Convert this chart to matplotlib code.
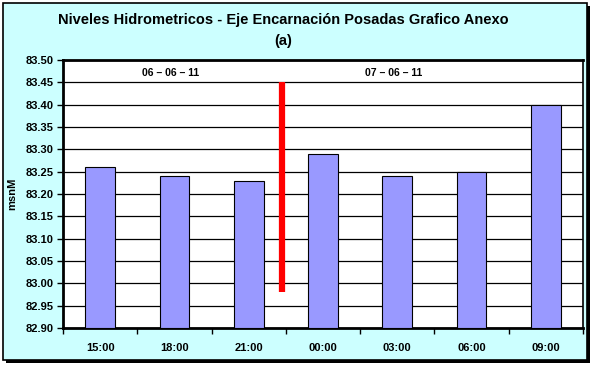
import matplotlib
matplotlib.use("Agg")
import matplotlib.pyplot as plt
from matplotlib.patches import Rectangle
import numpy as np

plt.rcParams['font.family'] = ['Liberation Sans', 'DejaVu Sans']

categories = ["15:00", "18:00", "21:00", "00:00", "03:00", "06:00", "09:00"]
values = [83.26, 83.24, 83.23, 83.29, 83.24, 83.25, 83.40]
yticks = [82.90, 82.95, 83.00, 83.05, 83.10, 83.15, 83.20, 83.25, 83.30, 83.35, 83.40, 83.45, 83.50]
divider_x = 2.45
divider_y = [82.981, 83.45]
date_labels = ["06 – 06 – 11", "07 – 06 – 11"]
date_x = [0.95, 3.95]
date_y = 83.472

W, H = 595, 373
fig = plt.figure(figsize=(W/100, H/100), dpi=100)
fig.patch.set_facecolor('white')

# figure frame with shadow
fig.patches.append(Rectangle((6/W, 1 - 363/H), 584/W, 357/H, transform=fig.transFigure,
                             facecolor='black', edgecolor='none', zorder=-3))
fig.patches.append(Rectangle((3/W, 1 - 360/H), 584/W, 357/H, transform=fig.transFigure,
                             facecolor='#CCFFFF', edgecolor='black', linewidth=1.2, zorder=-2))

ax = fig.add_axes([63/W, 1 - 328/H, 520/W, 268/H])
ax.set_zorder(1)
ax.set_facecolor('white')
x = np.arange(len(categories))
ax.bar(x, np.array(values) - 82.90, width=0.4, bottom=82.90, color='#9999FF',
       edgecolor='black', linewidth=0.8, zorder=3)
ax.set_xlim(-0.5, len(categories) - 0.5)
ax.set_ylim(82.90, 83.50)
ax.set_yticks(yticks)
ax.set_yticklabels([f"{v:.2f}" for v in yticks], fontsize=8, fontweight='bold')
ax.yaxis.grid(True, color='black', linewidth=0.9, zorder=1)
ax.set_axisbelow(True)

ax.set_xticks(x)
ax.set_xticklabels(categories, fontsize=8, fontweight='bold')
ax.tick_params(axis='x', which='major', length=0, pad=11)
ax.set_xticks(np.arange(-0.5, len(categories)), minor=True)
ax.tick_params(axis='x', which='minor', length=4, width=1, direction='out')
ax.tick_params(axis='y', length=4, width=1, direction='out', pad=3)

for s in ax.spines.values():
    s.set_color('black')
    s.set_linewidth(1.2)
ax.spines['left'].set_linewidth(2)
ax.spines['bottom'].set_linewidth(2)
ax.spines['top'].set_linewidth(2)

ax.plot([divider_x, divider_x], divider_y, color='#FF0000', linewidth=4.5,
        solid_capstyle='butt', zorder=4)

for t, dx in zip(date_labels, date_x):
    ax.text(dx, date_y, t, ha='center', va='center', fontsize=7.5, fontweight='heavy', zorder=5)

ax.set_ylabel("msnM", fontsize=8, fontweight='bold', labelpad=6)

fig.text(283/W, 1 - 20/H, "Niveles Hidrometricos - Eje Encarnación Posadas Grafico Anexo",
         ha='center', va='center', fontsize=10.5, fontweight='bold')
fig.text(283/W, 1 - 41/H, "(a)", ha='center', va='center', fontsize=10.5, fontweight='bold')

fig.savefig("out.png", dpi=100, facecolor=fig.get_facecolor())
